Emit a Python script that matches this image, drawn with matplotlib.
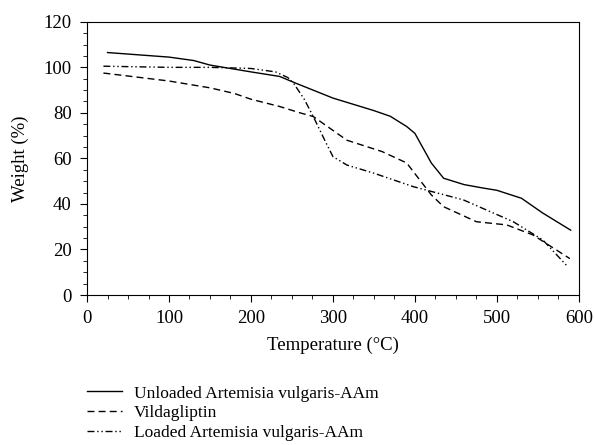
import matplotlib.pyplot as plt
from matplotlib.ticker import MultipleLocator

plt.rcParams['font.family'] = ['Liberation Serif', 'DejaVu Serif']

# Unloaded Artemisia vulgaris-AAm
t_unloaded = [25, 100, 130, 150, 200, 235, 255, 300, 350, 370, 390, 400, 420, 435, 460, 483, 500, 530, 556, 590]
w_unloaded = [106.5, 104.5, 103, 101, 98, 96, 93, 86.5, 81, 78.5, 74, 71, 58, 51.3, 48.5, 47, 46, 42.5, 36, 28.5]

# Vildagliptin
t_vilda = [20, 100, 150, 180, 200, 235, 260, 276, 317, 360, 390, 406, 420, 435, 475, 512, 544, 589]
w_vilda = [97.5, 94, 91, 88.5, 86, 82.8, 80, 78.4, 68, 63, 58, 50.5, 44, 38.8, 32.2, 30.8, 26.4, 16]

# Loaded Artemisia vulgaris-AAm
t_loaded = [20, 100, 150, 200, 230, 245, 252, 265, 276, 290, 300, 317, 350, 398, 459, 520, 556, 585]
w_loaded = [100.5, 100, 100, 99.5, 98, 95.5, 93, 86, 78.4, 68, 60.8, 57.1, 53.5, 47.6, 41.8, 32.2, 24.2, 13]

fig = plt.figure(figsize=(5.94, 4.45), dpi=100)
ax = fig.add_axes([0.1465, 0.337, 0.828, 0.614])

ax.plot(t_unloaded, w_unloaded, color='black', lw=1.0, ls='-',
        label='Unloaded Artemisia vulgaris-AAm')
ax.plot(t_vilda, w_vilda, color='black', lw=1.0, ls=(0, (5, 3)),
        label='Vildagliptin')
ax.plot(t_loaded, w_loaded, color='black', lw=1.0, ls=(0, (5, 2, 1, 2, 1, 2)),
        label='Loaded Artemisia vulgaris-AAm')

ax.set_xlim(0, 600)
ax.set_ylim(0, 120)
ax.xaxis.set_major_locator(MultipleLocator(100))
ax.xaxis.set_minor_locator(MultipleLocator(25))
ax.yaxis.set_major_locator(MultipleLocator(20))
ax.yaxis.set_minor_locator(MultipleLocator(5))
ax.tick_params(which='both', direction='out', top=False, right=False, labelsize=13.5)
ax.tick_params(which='major', length=5, pad=6)
ax.tick_params(which='minor', length=3)

ax.set_xlabel('Temperature (°C)', fontsize=13.5)
ax.set_ylabel('Weight (%)', fontsize=13.5)
ax.xaxis.set_label_coords(0.5, -0.152)
ax.yaxis.set_label_coords(-0.117, 0.5)

fig.legend(loc='upper left', bbox_to_anchor=(0.1465, 0.134), frameon=False,
           fontsize=12.5, handlelength=2.0, handletextpad=0.7, labelspacing=0.22,
           borderpad=0, borderaxespad=0)

fig.savefig('out.png', dpi=100)
